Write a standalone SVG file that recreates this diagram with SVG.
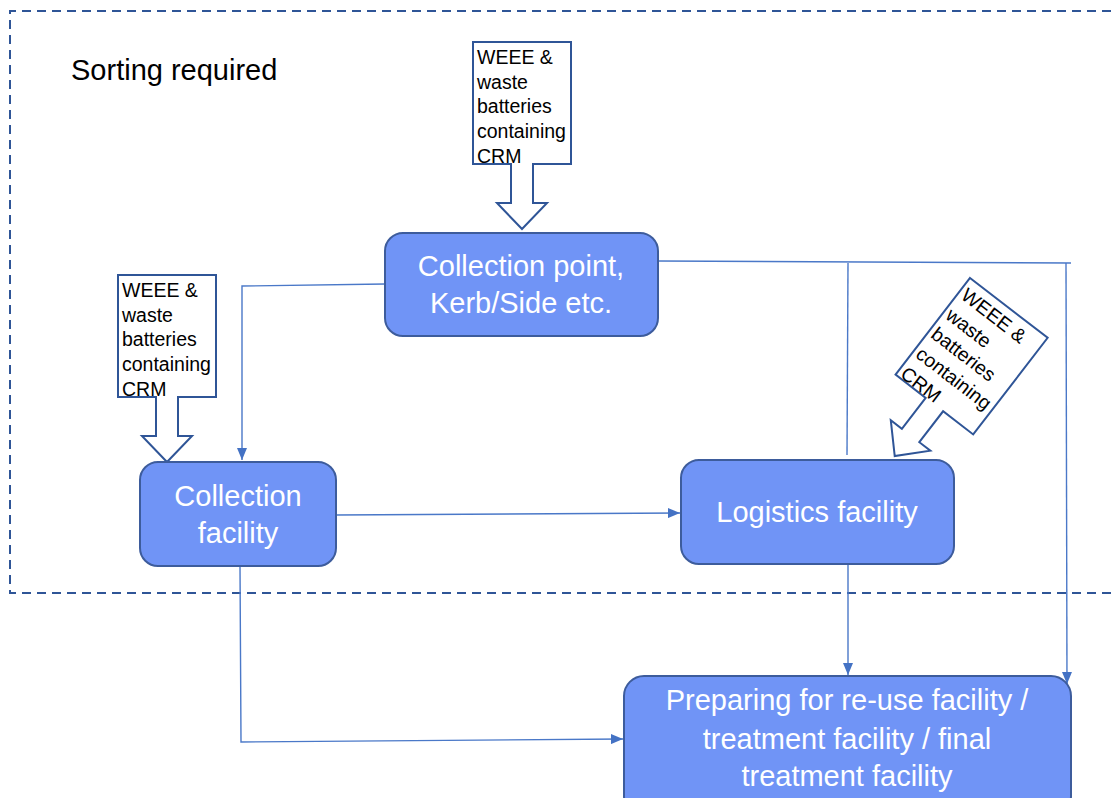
<svg xmlns="http://www.w3.org/2000/svg" width="1111" height="798" viewBox="0 0 1111 798">
<style>
.node{fill:#7094f6;stroke:#3d5c9c;stroke-width:2}
.nt{font-family:"Liberation Sans",Arial,sans-serif;font-size:29px;fill:#ffffff;text-anchor:middle}
.call{fill:#ffffff;stroke:#2f5597;stroke-width:2;stroke-linejoin:miter}
.ct{font-family:"Liberation Sans",Arial,sans-serif;font-size:19.5px;fill:#000000}
.conn{fill:none;stroke:#4a78c8;stroke-width:1.4}
.frame{fill:none;stroke:#2f5597;stroke-width:2;stroke-dasharray:9 6}
.lbl{font-family:"Liberation Sans",Arial,sans-serif;font-size:29px;fill:#000000}
</style>
<defs>
<marker id="ah" viewBox="0 0 12 10" refX="12" refY="5" markerWidth="12" markerHeight="10" markerUnits="userSpaceOnUse" orient="auto">
<path d="M0,0 L12,5 L0,10 Z" fill="#4472c4"/>
</marker>
<path id="callshape" d="M0,0 H98 V122 H60 V161 H74 L49,187 L24,161 H38 V122 H0 Z"/>
</defs>

<g id="frame">
<path class="frame" d="M1111,11 H10 V593 H1111"/>
<text class="lbl" x="71" y="80">Sorting required</text>
</g>

<g id="connectors">
<path class="conn" d="M385,284 L242,286 L242,460" marker-end="url(#ah)"/>
<path class="conn" d="M658,261 L1071,263"/>
<path class="conn" d="M848,263 L847,455"/>
<path class="conn" d="M1066,263 L1067,684" marker-end="url(#ah)"/>
<path class="conn" d="M848,564 L848,675" marker-end="url(#ah)"/>
<path class="conn" d="M336,515 L680,513" marker-end="url(#ah)"/>
<path class="conn" d="M240,566 L241,742 L623,739" marker-end="url(#ah)"/>
</g>

<g id="input-top" transform="translate(473,42)">
<use href="#callshape" class="call"/>
<text class="ct" x="4" y="22">WEEE &amp;</text>
<text class="ct" x="4" y="47">waste</text>
<text class="ct" x="4" y="71">batteries</text>
<text class="ct" x="4" y="96">containing</text>
<text class="ct" x="4" y="121">CRM</text>
</g>

<g id="input-left" transform="translate(118,275)">
<use href="#callshape" class="call"/>
<text class="ct" x="4" y="22">WEEE &amp;</text>
<text class="ct" x="4" y="47">waste</text>
<text class="ct" x="4" y="71">batteries</text>
<text class="ct" x="4" y="96">containing</text>
<text class="ct" x="4" y="121">CRM</text>
</g>

<g id="input-right" transform="translate(970,278) rotate(37.6)">
<use href="#callshape" class="call"/>
<text class="ct" x="4" y="22">WEEE &amp;</text>
<text class="ct" x="4" y="47">waste</text>
<text class="ct" x="4" y="71">batteries</text>
<text class="ct" x="4" y="96">containing</text>
<text class="ct" x="4" y="121">CRM</text>
</g>

<g id="collection-point">
<rect class="node" x="385" y="233" width="273" height="103" rx="18"/>
<text class="nt" x="521" y="276">Collection point,</text>
<text class="nt" x="521" y="313">Kerb/Side etc.</text>
</g>

<g id="collection-facility">
<rect class="node" x="140" y="462" width="196" height="104" rx="18"/>
<text class="nt" x="238" y="506">Collection</text>
<text class="nt" x="238" y="543">facility</text>
</g>

<g id="logistics-facility">
<rect class="node" x="681" y="460" width="273" height="104" rx="18"/>
<text class="nt" x="817" y="522">Logistics facility</text>
</g>

<g id="treatment-facility">
<rect class="node" x="624" y="676" width="447" height="140" rx="20"/>
<text class="nt" x="847" y="710">Preparing for re-use facility /</text>
<text class="nt" x="847" y="749">treatment facility / final</text>
<text class="nt" x="847" y="786">treatment facility</text>
</g>
</svg>
